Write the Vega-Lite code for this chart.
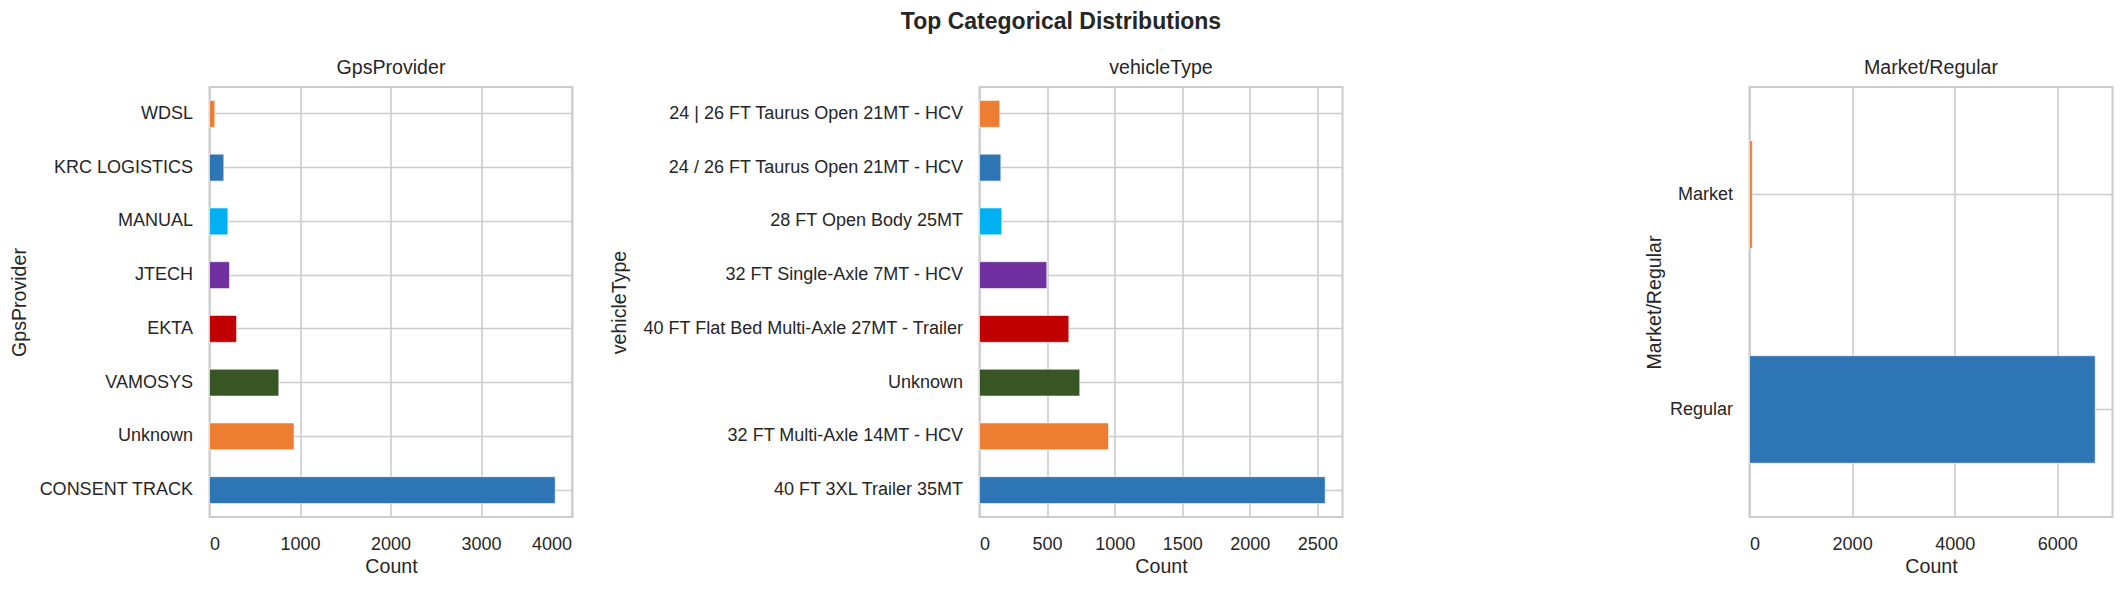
{
  "$schema": "https://vega.github.io/schema/vega-lite/v6.json",
  "background": "white",
  "padding": {"left": 8.5, "top": 11, "right": 5, "bottom": 5},
  "title": {"text": "Top Categorical Distributions", "fontSize": 23, "fontWeight": "bold", "anchor": "middle", "color": "#262626", "offset": 23},
  "config": {
    "font": "Liberation Sans",
    "view": {"stroke": "#cccccc", "strokeWidth": 2},
    "title": {"fontSize": 19.6, "fontWeight": "normal", "color": "#262626", "offset": 8},
    "axis": {
      "labelFontSize": 18, "labelColor": "#262626", "titleFontSize": 19.6, "titleColor": "#262626",
      "titleFontWeight": "normal", "ticks": false, "tickSize": 0, "domain": false,
      "gridColor": "#cccccc", "gridWidth": 1.6, "gridOpacity": 1, "labelLimit": 600
    },
    "axisX": {"labelPadding": 18, "minExtent": 35, "maxExtent": 35, "titlePadding": 5, "format": "d"},
    "axisY": {"labelPadding": 17, "bandPosition": 0.5, "grid": true}
  },
  "spacing": 407,
  "bounds": "flush",
  "resolve": {"scale": {"x": "independent", "y": "independent", "color": "independent"}},
  "hconcat": [
    {
      "title": "GpsProvider",
      "width": 363, "height": 430,
      "data": {"values": [
        {"category": "CONSENT TRACK", "count": 3820},
        {"category": "Unknown", "count": 934},
        {"category": "VAMOSYS", "count": 766},
        {"category": "EKTA", "count": 299},
        {"category": "JTECH", "count": 221},
        {"category": "MANUAL", "count": 203},
        {"category": "KRC LOGISTICS", "count": 158},
        {"category": "WDSL", "count": 59}
      ]},
      "mark": {"type": "bar", "stroke": "white", "strokeWidth": 0.6},
      "encoding": {
        "y": {"field": "category", "type": "nominal",
          "sort": ["WDSL", "KRC LOGISTICS", "MANUAL", "JTECH", "EKTA", "VAMOSYS", "Unknown", "CONSENT TRACK"],
          "scale": {"paddingInner": 0.5, "paddingOuter": 0.25},
          "axis": {"title": "GpsProvider", "minExtent": 175, "maxExtent": 175, "titlePadding": 5}},
        "x": {"field": "count", "type": "quantitative",
          "scale": {"domain": [0, 4011], "nice": false},
          "axis": {"title": "Count", "values": [0, 1000, 2000, 3000, 4000]}},
        "color": {"field": "category", "type": "nominal", "legend": null,
          "scale": {"domain": ["CONSENT TRACK", "Unknown", "VAMOSYS", "EKTA", "JTECH", "MANUAL", "KRC LOGISTICS", "WDSL"],
            "range": ["#2E75B6", "#ED7D31", "#375623", "#C00000", "#7030A0", "#00B0F0", "#2E75B6", "#ED7D31"]}}
      }
    },
    {
      "title": "vehicleType",
      "width": 363, "height": 430,
      "data": {"values": [
        {"category": "40 FT 3XL Trailer 35MT", "count": 2558},
        {"category": "32 FT Multi-Axle 14MT - HCV", "count": 955},
        {"category": "Unknown", "count": 742},
        {"category": "40 FT Flat Bed Multi-Axle 27MT - Trailer", "count": 661},
        {"category": "32 FT Single-Axle 7MT - HCV", "count": 498},
        {"category": "28 FT Open Body 25MT", "count": 165},
        {"category": "24 / 26 FT Taurus Open 21MT - HCV", "count": 158},
        {"category": "24 | 26 FT Taurus Open 21MT - HCV", "count": 150}
      ]},
      "mark": {"type": "bar", "stroke": "white", "strokeWidth": 0.6},
      "encoding": {
        "y": {"field": "category", "type": "nominal",
          "sort": ["24 | 26 FT Taurus Open 21MT - HCV", "24 / 26 FT Taurus Open 21MT - HCV", "28 FT Open Body 25MT", "32 FT Single-Axle 7MT - HCV", "40 FT Flat Bed Multi-Axle 27MT - Trailer", "Unknown", "32 FT Multi-Axle 14MT - HCV", "40 FT 3XL Trailer 35MT"],
          "scale": {"paddingInner": 0.5, "paddingOuter": 0.25},
          "axis": {"title": "vehicleType", "minExtent": 345, "maxExtent": 345, "titlePadding": 5.5}},
        "x": {"field": "count", "type": "quantitative",
          "scale": {"domain": [0, 2686], "nice": false},
          "axis": {"title": "Count", "values": [0, 500, 1000, 1500, 2000, 2500]}},
        "color": {"field": "category", "type": "nominal", "legend": null,
          "scale": {"domain": ["40 FT 3XL Trailer 35MT", "32 FT Multi-Axle 14MT - HCV", "Unknown", "40 FT Flat Bed Multi-Axle 27MT - Trailer", "32 FT Single-Axle 7MT - HCV", "28 FT Open Body 25MT", "24 / 26 FT Taurus Open 21MT - HCV", "24 | 26 FT Taurus Open 21MT - HCV"],
            "range": ["#2E75B6", "#ED7D31", "#375623", "#C00000", "#7030A0", "#00B0F0", "#2E75B6", "#ED7D31"]}}
      }
    },
    {
      "title": "Market/Regular",
      "width": 363, "height": 430,
      "data": {"values": [
        {"category": "Regular", "count": 6738},
        {"category": "Market", "count": 55}
      ]},
      "mark": {"type": "bar", "stroke": "white", "strokeWidth": 0.6},
      "encoding": {
        "y": {"field": "category", "type": "nominal",
          "sort": ["Market", "Regular"],
          "scale": {"paddingInner": 0.5, "paddingOuter": 0.25},
          "axis": {"title": "Market/Regular", "minExtent": 80, "maxExtent": 80, "titlePadding": 5}},
        "x": {"field": "count", "type": "quantitative",
          "scale": {"domain": [0, 7075], "nice": false},
          "axis": {"title": "Count", "values": [0, 2000, 4000, 6000]}},
        "color": {"field": "category", "type": "nominal", "legend": null,
          "scale": {"domain": ["Regular", "Market"], "range": ["#2E75B6", "#ED7D31"]}}
      }
    }
  ]
}
